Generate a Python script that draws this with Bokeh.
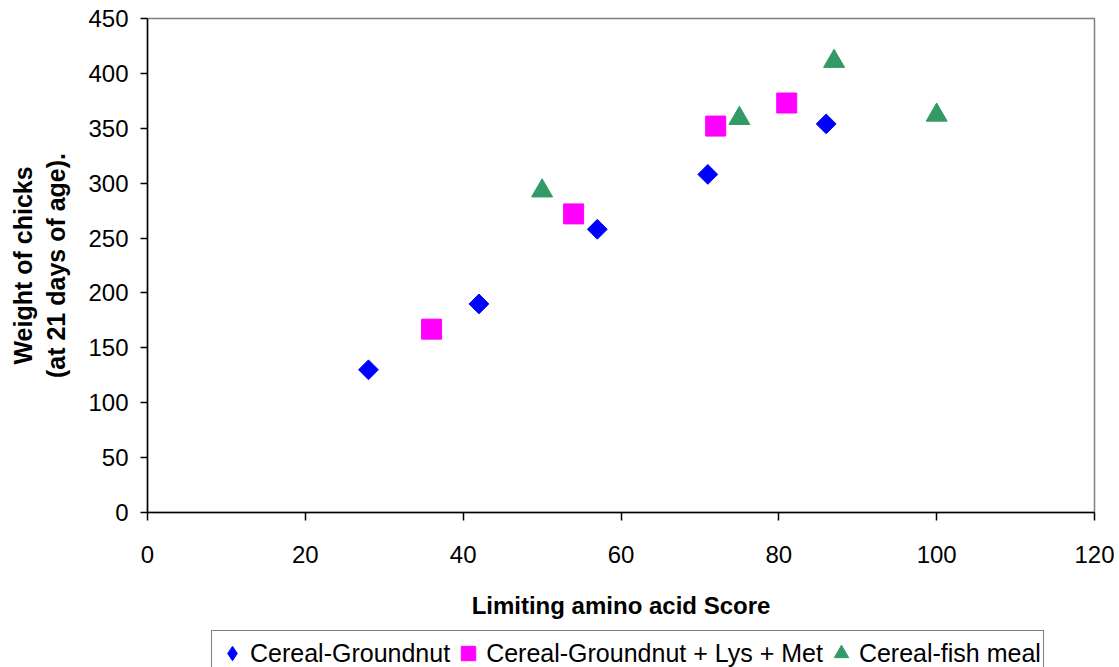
import math
from bokeh.plotting import figure
from bokeh.layouts import column
from bokeh.models import Range1d, Legend, LegendItem, FixedTicker
from bokeh.embed import file_html
from bokeh.resources import INLINE

# Data
gn_x = [28, 42, 57, 71, 86]
gn_y = [130, 190, 258, 308, 354]
lm_x = [36, 54, 72, 81]
lm_y = [167, 272, 352, 373]
fm_x = [50, 75, 87, 100]
fm_y = [293, 359, 411, 362]
x_ticks = [0, 20, 40, 60, 80, 100, 120]
y_ticks = [0, 50, 100, 150, 200, 250, 300, 350, 400, 450]
labels = ["Cereal-Groundnut", "Cereal-Groundnut + Lys + Met", "Cereal-fish meal"]
colors = ["#0000FF", "#FF00FF", "#339966"]

FONT = "Liberation Sans"

p = figure(width=1119, height=630, output_backend="svg", toolbar_location=None,
           x_range=Range1d(0, 120), y_range=Range1d(0, 450),
           min_border_left=147, min_border_right=25, min_border_top=18, min_border_bottom=118)
p.grid.visible = False
p.outline_line_color = "#808080"
p.outline_line_width = 1.5
p.background_fill_color = "white"
p.border_fill_color = "white"

p.scatter(gn_x, gn_y, marker="square", size=14, angle=math.pi / 4,
          fill_color=colors[0], line_color=colors[0])
p.scatter(lm_x, lm_y, marker="square", size=20,
          fill_color=colors[1], line_color=colors[1])
p.scatter(fm_x, fm_y, marker="triangle", size=21,
          fill_color=colors[2], line_color=colors[2])

for ax in (p.xaxis[0], p.yaxis[0]):
    ax.axis_line_color = "black"
    ax.axis_line_width = 1.5
    ax.major_tick_line_color = "black"
    ax.major_tick_line_width = 1.5
    ax.minor_tick_line_color = None
    ax.major_tick_in = 0
    ax.major_label_text_font = FONT
    ax.major_label_text_font_size = "24px"
    ax.major_label_text_color = "black"
    ax.axis_label_text_font = FONT
    ax.axis_label_text_font_style = "bold"
    ax.axis_label_text_color = "black"

p.xaxis.axis_label_text_font_size = "24px"
p.yaxis.axis_label_text_font_size = "25px"
p.xaxis.ticker = FixedTicker(ticks=x_ticks)
p.yaxis.ticker = FixedTicker(ticks=y_ticks)
p.xaxis.major_tick_out = 8
p.yaxis.major_tick_out = 7
p.xaxis.major_label_standoff = 25
p.yaxis.major_label_standoff = 12
p.xaxis.axis_label = "Limiting amino acid Score"
p.yaxis.axis_label = "Weight of chicks\n(at 21 days of age)."
p.xaxis.axis_label_standoff = 26
p.yaxis.axis_label_standoff = 15

# Legend strip below the chart (hidden copies of the series supply the legend glyphs)
f2 = figure(width=1119, height=37, output_backend="svg", toolbar_location=None,
            x_range=Range1d(0, 1), y_range=Range1d(0, 1),
            x_axis_location=None, y_axis_location=None,
            min_border_left=0, min_border_right=0, min_border_top=0, min_border_bottom=0)
f2.grid.visible = False
f2.outline_line_color = None
f2.background_fill_color = "white"
f2.border_fill_color = "white"

lr1 = f2.scatter(gn_x, gn_y, marker="diamond", fill_color=colors[0], line_color=colors[0], visible=False)
lr2 = f2.scatter(lm_x, lm_y, marker="square", fill_color=colors[1], line_color=colors[1], visible=False)
lr3 = f2.scatter(fm_x, fm_y, marker="triangle", fill_color=colors[2], line_color=colors[2], visible=False)

legend = Legend(items=[LegendItem(label=labels[0], renderers=[lr1]),
                       LegendItem(label=labels[1], renderers=[lr2]),
                       LegendItem(label=labels[2], renderers=[lr3])],
                orientation="horizontal", location=(64, -9))
legend.label_text_font = FONT
legend.label_text_font_size = "25px"
legend.label_text_color = "black"
legend.border_line_color = "black"
legend.border_line_width = 1.5
legend.background_fill_alpha = 1
legend.padding = 2
legend.margin = 0
legend.spacing = 0
legend.label_standoff = 0
legend.glyph_width = 36
legend.glyph_height = 40
legend.label_height = 24
f2.add_layout(legend, "center")

layout = column(p, f2, spacing=0)
open("out.html", "w").write(file_html(layout, INLINE))
